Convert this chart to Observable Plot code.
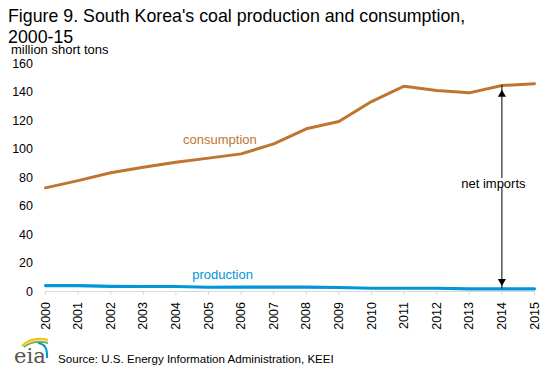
<!DOCTYPE html>
<html>
<head>
<meta charset="utf-8">
<script src="https://cdn.jsdelivr.net/npm/d3@7"></script>
<script src="https://cdn.jsdelivr.net/npm/@observablehq/plot@0.6"></script>
<style>
  html, body { margin: 0; padding: 0; background: #fff; }
  body { font-family: "Liberation Sans", Arial, sans-serif; }
  #wrap { position: relative; width: 546px; height: 371px; overflow: hidden; }
  .title { position: absolute; left: 8px; font-size: 17.8px; color: #000; white-space: nowrap; }
  #t1 { top: 6.5px; line-height: 18px; }
  #t2 { top: 30.1px; line-height: 14px; }
  #ylabel { position: absolute; left: 11px; top: 44.8px; font-size: 13px; line-height: 10px; color: #000; white-space: nowrap; }
  #chart { position: absolute; left: 0; top: 44px; }
  #source { position: absolute; left: 58px; top: 352.7px; font-size: 11.6px; line-height: 12px; color: #000; white-space: nowrap; }
  #logo { position: absolute; left: 10px; top: 333px; }
</style>
</head>
<body>
<div id="wrap">
  <div class="title" id="t1">Figure 9. South Korea's coal production and consumption,</div>
  <div class="title" id="t2">2000-15</div>
  <div id="ylabel">million short tons</div>
  <div id="chart"></div>
  <svg id="logo" width="44" height="36" viewBox="0 0 44 36">
    <path d="M12 13 Q22 3 38 7" fill="none" stroke="#f2c21b" stroke-width="2.2"/>
    <path d="M14 14 Q24 6 38 10" fill="none" stroke="#7cb342" stroke-width="2"/>
    <path d="M28 10 Q38 11 37 25" fill="none" stroke="#0096d7" stroke-width="2"/>
    <text x="4" y="30" font-family="DejaVu Serif, serif" font-size="21" fill="#555">eia</text>
  </svg>
  <div id="source">Source: U.S. Energy Information Administration, KEEI</div>
</div>
<script>
const years = [2000, 2001, 2002, 2003, 2004, 2005, 2006, 2007, 2008, 2009, 2010, 2011, 2012, 2013, 2014, 2015];
const consumption = [72.9, 78.0, 83.5, 87.4, 90.9, 93.8, 96.8, 103.8, 114.4, 119.5, 133.6, 144.4, 141.4, 139.7, 144.9, 146.1];
const production = [4.2, 4.2, 3.6, 3.5, 3.5, 3.0, 3.1, 3.1, 3.1, 2.8, 2.3, 2.3, 2.3, 1.9, 1.9, 1.9];
const yTicks = [0, 20, 40, 60, 80, 100, 120, 140, 160];
const seriesLabels = [
  {name: "consumption", x: 2005.35, y: 103.9, color: "#bf7530"},
  {name: "production", x: 2005.43, y: 8.6, color: "#0096d7"}
];
const annotationYear = 2014;
const annotationText = "net imports";
const annotationY = 76;
const gapTop = 85;
const gapBottom = 67.5;

const consRows = years.map((y, i) => ({year: y, value: consumption[i]}));
const prodRows = years.map((y, i) => ({year: y, value: production[i]}));
const ai = years.indexOf(annotationYear);
const aCons = consumption[ai];
const aProd = production[ai];

const chart = Plot.plot({
  width: 546,
  height: 290,
  marginLeft: 45,
  marginRight: 12,
  marginTop: 19.5,
  marginBottom: 43,
  style: {fontFamily: "Liberation Sans, Arial, sans-serif", background: "transparent"},
  x: {type: "linear", domain: [2000, 2015]},
  y: {domain: [0, 160]},
  marks: [
    Plot.axisY({ticks: yTicks, tickSize: 0, tickPadding: 12.5, fontSize: 12.5, fill: "#000", label: null}),
    Plot.axisX({ticks: years, tickFormat: d => String(d), tickRotate: -90, tickSize: 4, tickPadding: 6.5, fontSize: 12.5, stroke: "#d9d9d9", fill: "#000", label: null}),
    Plot.ruleY([0], {stroke: "#d9d9d9", strokeWidth: 1}),
    Plot.line(prodRows, {x: "year", y: "value", stroke: "#0096d7", strokeWidth: 3.2}),
    Plot.line(consRows, {x: "year", y: "value", stroke: "#bf7530", strokeWidth: 3}),
    Plot.text(seriesLabels, {x: "x", y: "y", text: "name", fill: "color", fontSize: 13, textAnchor: "middle", lineAnchor: "bottom"}),
    Plot.ruleX([annotationYear], {y1: gapTop, y2: aCons, stroke: "#000", strokeWidth: 1, insetTop: 8}),
    Plot.ruleX([annotationYear], {y1: aProd, y2: gapBottom, stroke: "#000", strokeWidth: 1, insetBottom: 8}),
    Plot.dot([annotationYear], {x: d => d, y: () => aCons, symbol: "triangle", r: 3, fill: "#000", stroke: null, dy: 9}),
    Plot.dot([annotationYear], {x: d => d, y: () => aProd, symbol: "triangle", r: 3, fill: "#000", stroke: null, dy: -7.5, rotate: 180}),
    Plot.text([annotationText], {x: () => annotationYear, y: () => annotationY, text: d => d, fontSize: 13, fill: "#000", dx: -8.5})
  ]
});
document.getElementById("chart").appendChild(chart);
</script>
</body>
</html>
